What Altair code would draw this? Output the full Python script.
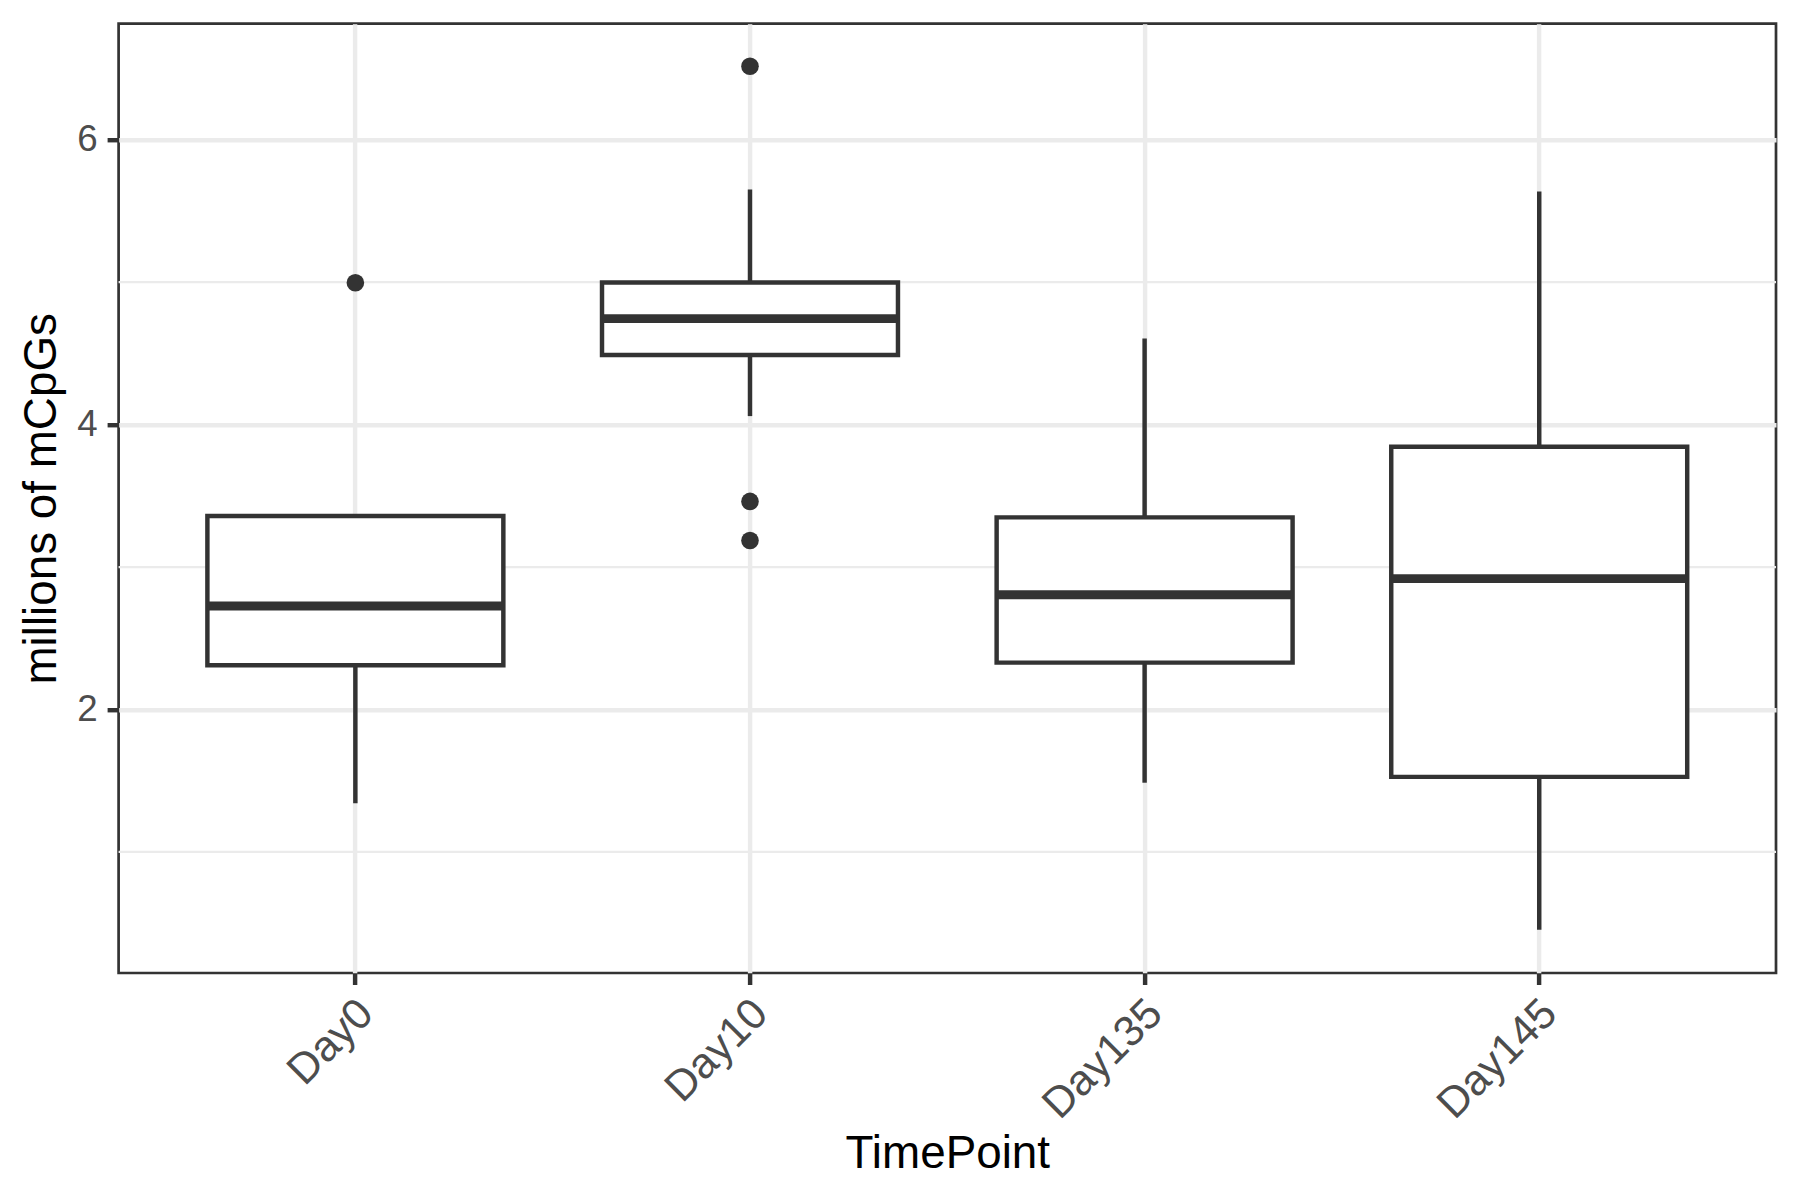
import altair as alt
import pandas as pd

# ---- data ----
timepoints = ["Day0", "Day10", "Day135", "Day145"]
whisker_low = [1.341, 4.060, 1.486, 0.454]
q1 = [2.311, 4.489, 2.329, 1.527]
median = [2.727, 4.744, 2.806, 2.919]
q3 = [3.358, 4.998, 3.349, 3.845]
whisker_high = [3.358, 5.651, 4.604, 5.637]

outlier_tp = ["Day0", "Day10", "Day10", "Day10"]
outlier_val = [4.996, 6.516, 3.461, 3.187]

minor_grid = [1, 3, 5]
major_ticks = [2, 4, 6]

# ---- layout ----
W = 1657.4
H = 949.3
STEP = W / 4.2
BW = 0.75 * STEP
LW = 4.45
DARK = "#333333"
GRID = "#EBEBEB"
FONT = "Liberation Sans"

stats = pd.DataFrame({
    "TimePoint": timepoints,
    "low": whisker_low,
    "q1": q1,
    "median": median,
    "q3": q3,
    "high": whisker_high,
})
outliers = pd.DataFrame({"TimePoint": outlier_tp, "value": outlier_val})
minor = pd.DataFrame({"v": minor_grid})

xscale = alt.Scale(domain=timepoints, paddingInner=0.25, paddingOuter=0.225)
yscale = alt.Scale(domain=[0.15, 6.815], nice=False, zero=False)

x_axis = alt.Axis(
    title="TimePoint", grid=True, gridColor=GRID, gridWidth=LW, bandPosition=0.5,
    domain=False, ticks=True, tickSize=11.5, tickWidth=LW, tickColor=DARK,
    labelAngle=-45, labelAlign="right", labelBaseline="top", labelPadding=7,
    labelOffset=-4,
    labelFontSize=43, labelColor="#4D4D4D", labelFont=FONT,
    titleFont=FONT, titleFontSize=45.8, titleColor="black", titleFontWeight="normal",
    titleX=W / 2, titleY=194, titleAlign="center", titleBaseline="alphabetic",
)
y_axis = alt.Axis(
    title="millions of mCpGs", values=major_ticks, grid=True, gridColor=GRID, gridWidth=LW,
    domain=False, ticks=True, tickSize=11.5, tickWidth=LW, tickColor=DARK,
    labelFontSize=36.7, labelColor="#4D4D4D", labelFont=FONT, labelPadding=10,
    titleFont=FONT, titleFontSize=45.8, titleColor="black", titleFontWeight="normal",
    titleAngle=270, titleX=-63.6, titleY=H / 2, titleAlign="center", titleBaseline="alphabetic",
)

X = alt.X("TimePoint:N", scale=xscale, axis=x_axis, sort=timepoints)

minor_rules = alt.Chart(minor).mark_rule(color=GRID, strokeWidth=2.2).encode(
    y=alt.Y("v:Q", scale=yscale, axis=y_axis)
)

base = alt.Chart(stats)

low_whisk = base.mark_rule(color=DARK, strokeWidth=LW).encode(
    x=X, y=alt.Y("low:Q", scale=yscale, axis=y_axis), y2="q1:Q"
)
high_whisk = base.mark_rule(color=DARK, strokeWidth=LW).encode(
    x=X, y=alt.Y("q3:Q", scale=yscale, axis=y_axis), y2="high:Q"
)
boxes = base.mark_bar(fill="white", stroke=DARK, strokeWidth=LW).encode(
    x=X, y=alt.Y("q1:Q", scale=yscale, axis=y_axis), y2="q3:Q"
)
medians = base.mark_tick(color=DARK, thickness=2 * LW, size=BW, opacity=1).encode(
    x=X, y=alt.Y("median:Q", scale=yscale, axis=y_axis)
)
points = alt.Chart(outliers).mark_circle(color=DARK, size=310, opacity=1).encode(
    x=X, y=alt.Y("value:Q", scale=yscale, axis=y_axis)
)

chart = alt.layer(minor_rules, low_whisk, high_whisk, boxes, medians, points).properties(
    width=W,
    height=H,
    autosize=alt.AutoSizeParams(type="none"),
    padding={"left": 110.6, "top": 15.7, "right": 15, "bottom": 220},
    background="white",
).configure_view(stroke=DARK, strokeWidth=2.7).configure_axis(labelFont=FONT, titleFont=FONT)

chart.save("out.html", embed_options={"renderer": "svg", "actions": False})
